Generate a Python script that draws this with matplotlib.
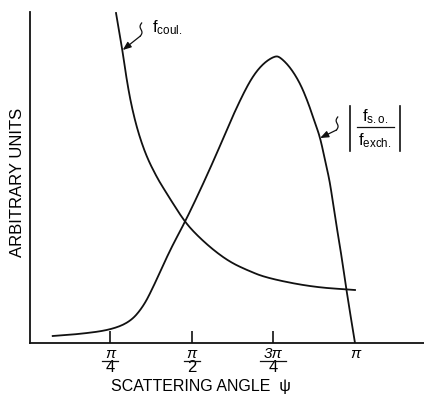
#!/usr/bin/env python3
"""Sketch of f_coul and |f_so / f_exch| against scattering angle psi."""
import matplotlib

matplotlib.use("Agg")
import matplotlib.pyplot as plt
from matplotlib.lines import Line2D
import matplotlib.transforms as mtransforms
import numpy as np

plt.rcParams["font.family"] = ["Liberation Sans", "DejaVu Sans"]
plt.rcParams["mathtext.fontset"] = "custom"
plt.rcParams["mathtext.rm"] = "Liberation Sans"
plt.rcParams["mathtext.it"] = "Liberation Sans:italic"

# Angles are given in units of pi, heights in arbitrary units (0 = axis).
COUL_X = [0.2684, 0.2889, 0.3011, 0.3164, 0.3366, 0.3623, 0.3929, 0.4131, 0.4437, 0.4795,
          0.5153, 0.5661, 0.6172, 0.6683, 0.7295, 0.8681, 0.9997]
COUL_Y = [330, 291, 263, 236, 210, 186, 166, 155, 139, 121,
          108, 93, 81, 73, 65, 56, 53]

SO_X = [0.0747, 0.1582, 0.2500, 0.3112, 0.3510, 0.3825, 0.4336, 0.4795, 0.5306, 0.5814,
        0.6172, 0.6631, 0.6937, 0.7243, 0.7549, 0.7702, 0.8008, 0.8314, 0.8568, 0.8773,
        0.8926, 0.9079, 0.9235, 0.9336, 0.9590, 0.9743, 0.9997]
SO_Y = [7, 9, 13, 21, 36, 56, 93, 121, 156, 193,
        221, 253, 270, 281, 287, 286, 276, 260, 240, 220,
        206, 183, 160, 136, 86, 51, 0]

TICK_POS = [0.25, 0.5, 0.75, 1.0]
TICK_NUM = ["\u03c0", "\u03c0", "3\u03c0", "\u03c0"]
TICK_DEN = ["4", "2", "4", ""]

W, H = 424, 396
INK = "#111111"


def smooth(xs, ys, passes=4):
    """Chaikin corner cutting over the read-off points, to even out reading jitter."""
    p = np.column_stack([xs, ys]).astype(float)
    for _ in range(passes):
        q = 0.75 * p[:-1] + 0.25 * p[1:]
        r = 0.25 * p[:-1] + 0.75 * p[1:]
        mid = np.empty((2 * len(q), 2))
        mid[0::2], mid[1::2] = q, r
        p = np.vstack([p[:1], mid, p[-1:]])
    return p[:, 0], p[:, 1]


fig = plt.figure(figsize=(W / 100, H / 100), dpi=100)
ax = fig.add_axes([30 / W, (H - 343) / H, (W - 30) / W, 331 / H])

cx, cy = smooth(np.array(COUL_X) * np.pi, COUL_Y)
ax.plot(cx, cy, color=INK, lw=1.3)
sx, sy = smooth(np.array(SO_X) * np.pi, SO_Y)
ax.plot(sx, sy, color=INK, lw=1.3)

x0 = (30 - 28.3) / 326.8 * np.pi
x1 = (424 - 28.3) / 326.8 * np.pi
ax.set_xlim(x0, x1)
ax.set_ylim(0, 331)
ax.spines[["top", "right"]].set_visible(False)
for s in ("left", "bottom"):
    ax.spines[s].set_linewidth(1.3)
    ax.spines[s].set_color(INK)

ax.set_yticks([])
ax.set_xticks(np.array(TICK_POS) * np.pi)
ax.set_xticklabels([])
ax.tick_params(axis="x", direction="in", length=9, width=1.2, color=INK)
ax.xaxis.get_major_ticks()[3].tick1line.set_visible(False)

# stacked fraction tick labels
to_fig = mtransforms.blended_transform_factory(ax.transData, fig.transFigure)
for pos, num, den in zip(TICK_POS, TICK_NUM, TICK_DEN):
    x = pos * np.pi
    ax.text(x, 1 - 354 / H, num, transform=to_fig, ha="center", va="center",
            fontsize=11, style="italic")
    if den:
        ax.text(x, 1 - 368 / H, den, transform=to_fig, ha="center", va="center", fontsize=12)
        half = (0.04 if len(num) > 1 else 0.025) * np.pi
        fig.add_artist(Line2D([x - half, x + half], [1 - 360.5 / H, 1 - 360.5 / H],
                              transform=to_fig, color=INK, lw=0.9))


def squiggle(start, end):
    """Small S-shaped leader ending in an arrow."""
    ax.annotate("", xy=end, xytext=start,
                arrowprops=dict(arrowstyle="-|>,head_length=0.5,head_width=0.2",
                                color=INK, lw=0.9, shrinkA=0, shrinkB=0))
    t = np.linspace(0, 1, 30)
    xs = start[0] + 0.012 * np.sin(2 * np.pi * t) + 0.012 * t
    ys = start[1] + 13 * t
    ax.plot(xs, ys, color=INK, lw=0.9)


# f_coul label and leader
squiggle((0.343 * np.pi, 307), (0.289 * np.pi, 293))
ax.text(0.378 * np.pi, 315, r"f$_{\mathregular{coul.}}$", fontsize=12, va="center", ha="left")

# |f_so / f_exch| label and leader
squiggle((0.943 * np.pi, 213), (0.893 * np.pi, 205))
fx = lambda px: px / W
fy = lambda py: 1 - py / H
for bx in (350, 400):
    fig.add_artist(Line2D([fx(bx), fx(bx)], [fy(106), fy(151)], color=INK, lw=1.2))
fig.add_artist(Line2D([fx(357), fx(394)], [fy(127), fy(127)], color=INK, lw=0.9))
fig.text(fx(375), fy(117), r"f$_{\mathregular{s.o.}}$", ha="center", va="center", fontsize=12)
fig.text(fx(375), fy(141), r"f$_{\mathregular{exch.}}$", ha="center", va="center", fontsize=12)

fig.text(18 / W, 1 - 182 / H, "ARBITRARY UNITS", rotation=90, ha="center", va="center", fontsize=12)
fig.text(201 / W, 1 - 386 / H, "SCATTERING ANGLE  \u03c8", ha="center", va="center", fontsize=11.5)

fig.savefig("out.png", dpi=100)
